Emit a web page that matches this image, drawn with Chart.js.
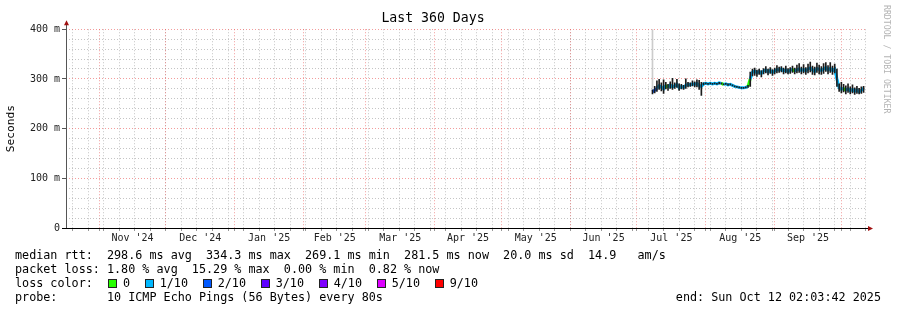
<!DOCTYPE html>
<html>
<head>
<meta charset="utf-8">
<script src="https://cdn.jsdelivr.net/npm/chart.js@4.4.0/dist/chart.umd.min.js"></script>
<style>
  body { margin: 0; background: #fff; }
  #wrap { position: relative; width: 897px; height: 310px; font-family: "DejaVu Sans Mono", monospace; }
  #wrap canvas { position: absolute; left: 0; top: 0; }
  .leg { position: absolute; font-size: 11.75px; line-height: 14px; white-space: pre; color: #000; }
  .sw { position: absolute; width: 7px; height: 7px; border: 1px solid #222; }
  #credit { position: absolute; left: 882px; top: 5px; writing-mode: vertical-rl; font-size: 8.2px; line-height: 10px; color: #b4b4b4; white-space: pre; }
</style>
</head>
<body>
<div id="wrap">
  <canvas id="chart" width="897" height="310"></canvas>
  <div id="credit">RRDTOOL / TOBI OETIKER</div>
  <div class="leg" style="left:15px;top:247.5px">median rtt:  298.6 ms avg  334.3 ms max  269.1 ms min  281.5 ms now  20.0 ms sd  14.9   am/s</div>
  <div class="leg" style="left:15px;top:261.5px">packet loss: 1.80 % avg  15.29 % max  0.00 % min  0.82 % now</div>
  <div class="leg" style="left:15px;top:275.5px">loss color:</div>
  <div id="lossLegend"></div>
  <div class="leg" style="left:15px;top:289.5px">probe:       10 ICMP Echo Pings (56 Bytes) every 80s</div>
  <div class="leg" style="right:16px;top:289.5px">end: Sun Oct 12 02:03:42 2025</div>
</div>
<script>
// time axis: 360 days ending Sun Oct 12 02:03:42 2025, x in days since start
const t0 = Date.UTC(2024, 9, 17, 2, 3, 42);
const DAY = 86400000;
const toDay = ms => (ms - t0) / DAY;

const monthLabels = ["Nov '24", "Dec '24", "Jan '25", "Feb '25", "Mar '25", "Apr '25",
                     "May '25", "Jun '25", "Jul '25", "Aug '25", "Sep '25"];
const yLabelValues = [0, 100, 200, 300, 400];

// daily samples, Jul 8 .. Oct 11 2025
const medianRtt = [
  274, 277, 281, 286, 284, 280, 287, 283, 288, 284,
  286, 289, 282, 285, 283, 287, 289, 288, 290, 289,
  291, 287, 285, 290, 291, 290, 291, 290, 291, 290,
  292, 291, 289, 290, 288, 289, 287, 285, 284, 283,
  282, 282, 283, 285, 300, 314, 316, 312, 315, 311,
  316, 318, 314, 317, 313, 316, 319, 318, 320, 316,
  318, 315, 317, 319, 316, 318, 320, 317, 319, 316,
  320, 322, 318, 315, 321, 319, 317, 320, 323, 318,
  321, 317, 320, 300, 282, 279, 281, 277, 280, 276,
  279, 275, 278, 274, 277, 281
];
const rttLow = [
  270, 272, 275, 279, 276, 271, 280, 277, 281, 279,
  281, 283, 277, 280, 279, 281, 284, 285, 286, 284,
  284, 279, 267, 288, 290, 289, 290, 289, 290, 289,
  290, 290, 288, 289, 287, 288, 286, 284, 283, 282,
  281, 281, 282, 283, 285, 306, 307, 305, 309, 304,
  310, 312, 308, 311, 307, 310, 312, 313, 314, 310,
  312, 310, 311, 313, 310, 312, 313, 310, 312, 309,
  312, 314, 309, 308, 313, 310, 309, 311, 315, 310,
  313, 309, 312, 285, 275, 272, 274, 270, 273, 270,
  272, 269, 271, 270, 271, 273
];
const rttHigh = [
  278, 285, 296, 299, 292, 298, 293, 289, 294, 301,
  292, 299, 290, 289, 287, 300, 293, 292, 296, 294,
  298, 297, 293, 292, 292, 291, 292, 291, 292, 291,
  293, 292, 290, 291, 290, 290, 288, 286, 285, 284,
  283, 283, 284, 287, 314, 320, 322, 318, 320, 317,
  321, 325, 320, 323, 319, 322, 327, 324, 325, 322,
  326, 321, 323, 326, 322, 328, 331, 324, 329, 323,
  330, 334, 326, 324, 332, 328, 325, 331, 333, 327,
  333, 326, 330, 320, 290, 293, 289, 286, 290, 284,
  288, 282, 285, 281, 284, 285
];
// index into lossColors
const lossIndex = [
  2, 2, 1, 1, 1, 1, 0, 1, 1, 1,
  1, 1, 1, 1, 1, 1, 1, 1, 1, 1,
  1, 1, 1, 1, 1, 1, 1, 1, 1, 1,
  1, 0, 1, 1, 1, 1, 1, 1, 1, 1,
  1, 1, 1, 0, 1, 1, 1, 1, 1, 1,
  1, 1, 1, 1, 1, 1, 1, 1, 1, 1,
  1, 1, 1, 0, 1, 1, 1, 1, 1, 1,
  1, 1, 1, 1, 1, 1, 1, 1, 1, 1,
  1, 1, 1, 1, 1, 1, 0, 1, 1, 1,
  1, 1, 1, 1, 1, 1
];
const smokeLow = 281, smokeHigh = 400;   // one grey smoke spike on the first sample

const lossLabels = ['0', '1/10', '2/10', '3/10', '4/10', '5/10', '9/10'];
const lossColors = ['#26ff00', '#00b8ff', '#0059ff', '#5e00ff', '#7e00ff', '#dd00ff', '#ff0000'];

const sampleDays = [];
for (let d = Date.UTC(2025, 6, 8); d <= Date.UTC(2025, 9, 11); d += DAY) sampleDays.push(toDay(d));

// x ticks: sundays (minor grid), month starts (major grid), mid-month labels
const monthStarts = [];
for (let i = 0; i < 12; i++) monthStarts.push(toDay(Date.UTC(2024, 10 + i, 1)));
const xTicks = [];
for (let d = Date.UTC(2024, 9, 20); d < t0 + 360 * DAY; d += 7 * DAY) xTicks.push({ value: toDay(d), kind: 'week' });
monthStarts.forEach(v => xTicks.push({ value: v, kind: 'month' }));
monthLabels.forEach((txt, i) => xTicks.push({ value: (monthStarts[i] + monthStarts[i + 1]) / 2, kind: 'label', text: txt }));
xTicks.sort((a, b) => a.value - b.value);

// loss colour legend
const lossLegend = document.getElementById('lossLegend');
let lx = 108;
lossLabels.forEach((txt, i) => {
  const sw = document.createElement('div');
  sw.className = 'sw';
  sw.style.left = lx + 'px';
  sw.style.top = '278.5px';
  sw.style.background = lossColors[i];
  lossLegend.appendChild(sw);
  const lb = document.createElement('div');
  lb.className = 'leg';
  lb.style.left = (lx + 15) + 'px';
  lb.style.top = '275.5px';
  lb.textContent = txt;
  lossLegend.appendChild(lb);
  lx += 15 + txt.length * 7.1 + 14.6;
});

const RED = 'rgba(235, 90, 90, 0.6)';
const GREY = 'rgba(150, 150, 150, 0.55)';
const NONE = 'rgba(0,0,0,0)';
const kindOf = c => (c.tick ? c.tick.kind : null);
const valOf = c => (c.tick ? c.tick.value : null);

const axisArrows = {
  id: 'axisArrows',
  beforeDatasetsDraw(chart) {
    const { ctx, chartArea: a } = chart;
    ctx.save();
    ctx.lineWidth = 1;
    ctx.strokeStyle = '#555';
    ctx.beginPath();
    ctx.moveTo(a.left + 0.5, a.bottom);
    ctx.lineTo(a.left + 0.5, a.top - 5);
    ctx.stroke();
    ctx.strokeStyle = '#000';
    ctx.beginPath();
    ctx.moveTo(a.left - 4, a.bottom + 0.5);
    ctx.lineTo(a.right + 2, a.bottom + 0.5);
    ctx.stroke();
    ctx.fillStyle = '#a01010';
    ctx.beginPath();
    ctx.moveTo(a.left - 2, a.top - 4);
    ctx.lineTo(a.left + 3, a.top - 4);
    ctx.lineTo(a.left + 0.5, a.top - 9);
    ctx.closePath();
    ctx.fill();
    ctx.beginPath();
    ctx.moveTo(a.right + 2, a.bottom - 2);
    ctx.lineTo(a.right + 2, a.bottom + 3);
    ctx.lineTo(a.right + 7, a.bottom + 0.5);
    ctx.closePath();
    ctx.fill();
    ctx.restore();
  }
};

Chart.defaults.font.family = '"DejaVu Sans Mono", monospace';

new Chart(document.getElementById('chart'), {
  type: 'bar',
  data: {
    datasets: [
      {
        type: 'bar',
        data: [{ x: sampleDays[0], y: [smokeLow, smokeHigh] }],
        backgroundColor: '#cccccc',
        barThickness: 1,
        grouped: false,
        order: 3
      },
      {
        type: 'line',
        data: sampleDays.map((x, i) => ({ x, y: medianRtt[i] })),
        borderColor: lossColors[1],
        borderWidth: 3,
        pointRadius: 0,
        tension: 0,
        segment: { borderColor: c => lossColors[lossIndex[c.p0DataIndex]] },
        order: 2
      },
      {
        type: 'bar',
        data: sampleDays.map((x, i) => ({ x, y: [rttLow[i], rttHigh[i]] })),
        backgroundColor: '#1c1c1c',
        barThickness: 1,
        grouped: false,
        order: 1
      }
    ]
  },
  options: {
    responsive: false,
    animation: false,
    layout: { padding: { left: 0, right: 31, top: 0, bottom: 60 } },
    plugins: {
      legend: { display: false },
      tooltip: { enabled: false },
      title: {
        display: true,
        text: 'Last 360 Days',
        color: '#000',
        font: { size: 13.2, weight: 'normal' },
        padding: { top: 11, bottom: 2.4 }
      }
    },
    scales: {
      x: {
        type: 'linear',
        min: 0,
        max: 360,
        offset: false,
        afterBuildTicks: s => { s.ticks = xTicks.map(t => ({ ...t })); },
        afterFit: s => { s.height = 22; },
        grid: {
          offset: false,
          color: c => kindOf(c) === 'month' ? RED : kindOf(c) === 'week' ? GREY : NONE,
          tickColor: c => (kindOf(c) === 'month' || kindOf(c) === 'week') ? '#999' : NONE,
          tickLength: 3,
          lineWidth: 1
        },
        border: { display: false, dash: [1, 2] },
        ticks: {
          autoSkip: false,
          maxRotation: 0,
          padding: 1,
          color: '#222',
          font: { size: 10 },
          callback: (v, i, ticks) => (ticks[i] && ticks[i].text) || ''
        }
      },
      y: {
        min: 0,
        max: 400,
        afterFit: s => { s.width = 66; },
        grid: {
          color: c => {
            const v = valOf(c);
            if (v === null || v === 0) return NONE;
            return v % 100 === 0 ? RED : GREY;
          },
          tickColor: c => yLabelValues.includes(valOf(c)) ? '#555' : NONE,
          tickLength: 4,
          lineWidth: 1
        },
        border: { display: false, dash: [1, 2] },
        ticks: {
          stepSize: 20,
          autoSkip: false,
          padding: 2,
          color: '#222',
          font: { size: 10 },
          callback: v => yLabelValues.includes(v) ? (v === 0 ? '0' : v + ' m') : ''
        },
        title: {
          display: true,
          text: 'Seconds',
          color: '#000',
          font: { size: 11.2 },
          padding: { top: 4, bottom: 0 }
        }
      }
    }
  },
  plugins: [axisArrows]
});
</script>
</body>
</html>
